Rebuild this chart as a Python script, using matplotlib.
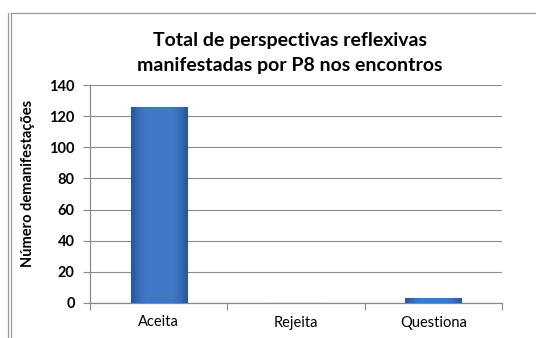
import numpy as np
import matplotlib
matplotlib.use("Agg")
import matplotlib.pyplot as plt
from matplotlib.lines import Line2D

# counts of reflective perspectives shown by P8
categorias = ["Aceita", "Rejeita", "Questiona"]
valores = [126, 0, 3]
yticks = [0, 20, 40, 60, 80, 100, 120, 140]

plt.rcParams['font.family'] = ['Lato', 'DejaVu Sans']

fig = plt.figure(figsize=(5.36, 3.38), dpi=100)
fig.patch.set_facecolor("white")

# outer frame lines (double line on the left, single on top)
W, H = 536.0, 338.0
for x in (8, 11):
    fig.add_artist(Line2D([x / W, x / W], [0, 1 - 13 / H], color="#9a9a9a", lw=0.9))
fig.add_artist(Line2D([11 / W, 1], [1 - 13 / H, 1 - 13 / H], color="#9a9a9a", lw=0.9))

ax = fig.add_axes([90 / W, 1 - 303 / H, (502 - 90) / W, (303 - 85) / H])
pos = np.arange(len(categorias))
bars = ax.bar(pos, valores, width=0.41, color="#3C74C2", edgecolor="#2B5A98",
              linewidth=0.8, zorder=3)

# bevelled look: darker near the sides, flat in the middle
grad = np.array([[0.0, 0.55, 0.85, 1.0, 1.0, 1.0, 1.0, 1.0, 1.0, 1.0, 0.85, 0.55, 0.0]])
cmap = matplotlib.colors.LinearSegmentedColormap.from_list(
    "barra", ["#2A5A9C", "#3E78C6"])
for b in bars:
    if b.get_height() <= 0:
        continue
    im = ax.imshow(grad, cmap=cmap, vmin=0.0, vmax=1.0, aspect="auto",
                   extent=[b.get_x(), b.get_x() + b.get_width(), 0, b.get_height()],
                   zorder=3.5, interpolation="bilinear")
    im.set_clip_path(b)

ax.set_xlim(-0.5, len(categorias) - 0.5)
ax.set_ylim(0, 140)
ax.set_yticks(yticks)
ax.set_yticklabels([str(v) for v in yticks], fontsize=10.5, fontweight="bold")
ax.set_xticks(np.arange(len(categorias) + 1) - 0.5)
ax.set_xticklabels([])
ax.set_xticks(pos, minor=True)
ax.set_xticklabels(categorias, minor=True, fontsize=10.5)
ax.tick_params(axis="x", which="major", length=5, color="#8a8a8a", direction="out")
ax.tick_params(axis="x", which="minor", length=0, pad=9)
ax.tick_params(axis="y", length=5, color="#8a8a8a", direction="out", pad=6)

ax.grid(axis="y", color="#8c8c8c", lw=0.8, zorder=0)
for s in ("top", "right"):
    ax.spines[s].set_visible(False)
for s in ("left", "bottom"):
    ax.spines[s].set_color("#8a8a8a")
    ax.spines[s].set_linewidth(0.9)

ax.set_ylabel("Número demanifestações", fontsize=10.5, fontweight="bold")
ax.yaxis.set_label_coords(-(90 - 35) / (502 - 90), 0.55)
fig.text(290 / W, 1 - 53 / H, "Total de perspectivas reflexivas\nmanifestadas por P8 nos encontros",
         ha="center", va="center", fontsize=14, fontweight="bold", linespacing=1.55)

fig.savefig("out.png", dpi=100, facecolor="white")
